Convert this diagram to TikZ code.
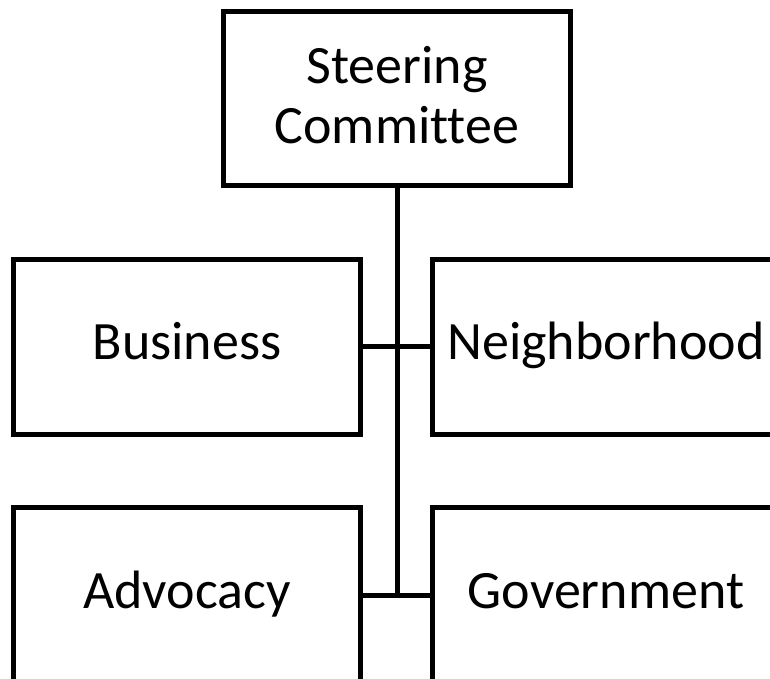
\documentclass[tikz,border=0pt]{standalone}
\usepackage{fontspec}
\setmainfont[Ligatures=NoCommon]{Carlito}
\begin{document}
\begin{tikzpicture}[x=1pt,y=-1pt,
    unit/.style={draw,line width=5pt,minimum width=347pt,minimum height=175pt,inner sep=0pt,align=center,font=\fontsize{54}{60}\selectfont},
    group/.style={unit,text height=40pt,text depth=14pt},
    link/.style={line width=5pt}]
    \useasboundingbox (0,0) rectangle (770,679);
    \clip (0,0) rectangle (770,679);
    \node[unit,minimum height=174pt,text depth=8pt] (steer) at (397,98.5) {Steering\\Committee};
    \node[group] (business) at (187,346.5) {Business};
    \node[group] (neighbor) at (606,346.5) {Neighborhood};
    \node[group] (advocacy) at (187,595) {Advocacy};
    \node[group] (govt) at (606,595) {Government};

    \draw[link] (steer.south) -- (steer.south |- advocacy.east);
    \draw[link] (business.east) -- (neighbor.west);
    \draw[link] (advocacy.east) -- (govt.west);
\end{tikzpicture}
\end{document}
